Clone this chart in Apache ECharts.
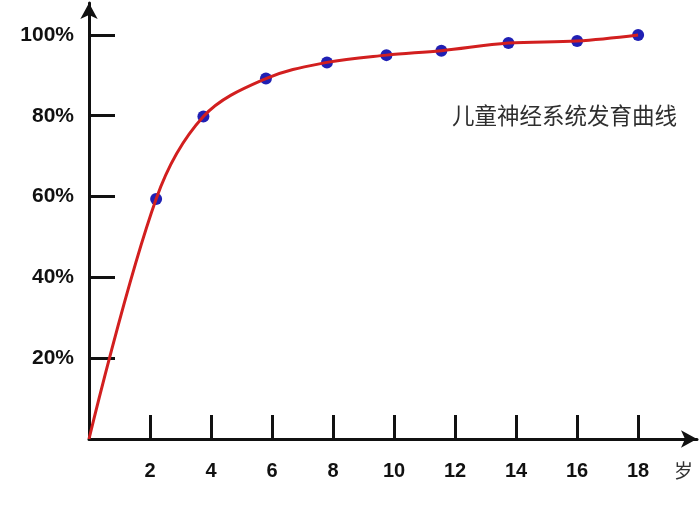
<!DOCTYPE html>
<html>
<head>
<meta charset="utf-8">
<script src="https://cdn.jsdelivr.net/npm/echarts@6/dist/echarts.min.js"></script>
<style>
  html, body { margin: 0; padding: 0; background: #fff; }
  #container { width: 700px; height: 525px; }
</style>
</head>
<body>
<div id="container"></div>
<script>
// data
var ages = [2.2, 3.75, 5.8, 7.8, 9.75, 11.55, 13.75, 16, 18];
var percents = [59.4, 79.8, 89.2, 93.2, 95, 96.1, 98, 98.5, 100];
var xTicks = [2, 4, 6, 8, 10, 12, 14, 16, 18];
var yTicks = [20, 40, 60, 80, 100];
var chartTitle = '儿童神经系统发育曲线';
var xUnit = '岁';

var dom = document.getElementById('container');
var myChart = echarts.init(dom, null, { renderer: 'canvas' });

var points = ages.map(function (a, i) { return [a, percents[i]]; });
// curve starts at the origin
var curve = [[0, 0]].concat(points);

var axisColor = '#111';

var option = {
    backgroundColor: '#fff',
    animation: false,
    title: [
        {
            text: chartTitle,
            left: 452,
            top: 104,
            padding: 0,
            textStyle: {
                fontFamily: 'Noto Sans CJK SC',
                fontSize: 22.5,
                fontWeight: 'normal',
                color: '#2e2e2e'
            }
        },
        {
            text: xUnit,
            left: 674,
            top: 461,
            padding: 0,
            textStyle: {
                fontFamily: 'Noto Sans CJK SC',
                fontSize: 19,
                fontWeight: 'normal',
                color: '#333'
            }
        }
    ],
    grid: {
        left: 89,
        right: 3,
        top: 3,
        bottom: 86
    },
    xAxis: {
        type: 'value',
        min: 0,
        max: 19.93,
        splitLine: { show: false },
        axisLine: {
            show: true,
            symbol: ['none', 'arrow'],
            symbolSize: [13, 16],
            lineStyle: { color: axisColor, width: 3 }
        },
        axisTick: {
            show: true,
            inside: true,
            length: 24,
            customValues: xTicks,
            lineStyle: { color: axisColor, width: 3 }
        },
        axisLabel: {
            customValues: xTicks,
            margin: 22,
            fontFamily: 'Liberation Sans',
            fontWeight: 'bold',
            fontSize: 20,
            color: '#111'
        }
    },
    yAxis: {
        type: 'value',
        min: 0,
        max: 107.9,
        splitLine: { show: false },
        axisLine: {
            show: true,
            symbol: ['none', 'arrow'],
            symbolSize: [13, 16],
            lineStyle: { color: axisColor, width: 3 }
        },
        axisTick: {
            show: true,
            inside: true,
            length: 26,
            customValues: yTicks,
            lineStyle: { color: axisColor, width: 3 }
        },
        axisLabel: {
            customValues: yTicks,
            margin: 15,
            formatter: '{value}%',
            fontFamily: 'Liberation Sans',
            fontWeight: 'bold',
            fontSize: 21,
            color: '#111'
        }
    },
    series: [
        {
            type: 'scatter',
            data: points,
            symbolSize: 12,
            itemStyle: { color: '#2020b4', opacity: 1 },
            z: 2
        },
        {
            type: 'line',
            data: curve,
            smooth: 0.35,
            showSymbol: false,
            symbol: 'none',
            lineStyle: { color: '#d21f1f', width: 3 },
            z: 3
        }
    ]
};

myChart.setOption(option);
window.addEventListener('resize', myChart.resize);
</script>
</body>
</html>
